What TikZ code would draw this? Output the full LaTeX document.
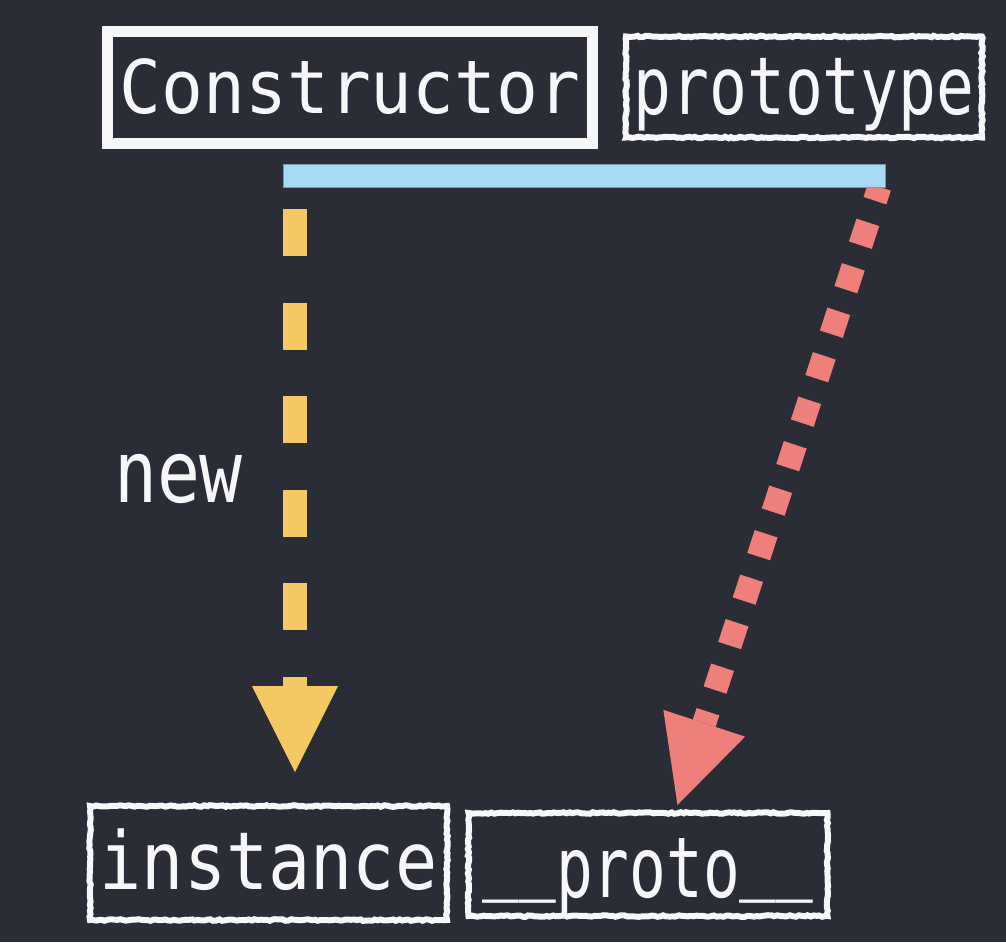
\documentclass[tikz,border=0pt]{standalone}
\usepackage{fontspec}
\usepackage{graphicx}
\usetikzlibrary{arrows.meta,decorations.pathmorphing,calc}
\newfontfamily\codefont{DejaVu Sans Mono}
\definecolor{bgc}{HTML}{2A2C36}
\definecolor{ink}{HTML}{F7F7F9}
\definecolor{yel}{HTML}{F4C862}
\definecolor{redc}{HTML}{EE7F7A}
\definecolor{barblue}{HTML}{A6D9F4}
\newcommand\mylbl[3]{\scalebox{#2}[1]{\codefont\fontsize{#1pt}{#1pt}\selectfont #3}}
\begin{document}
\begin{tikzpicture}[x=1pt,y=-1pt,
  solidbox/.style={draw=ink, line width=11pt, inner sep=0pt, text=ink},
  roughbox/.style={draw=ink, line width=6pt, inner sep=0pt, text=ink,
    decorate, decoration={random steps, segment length=3pt, amplitude=0.8pt}},
  ylink/.style={draw=yel, line width=24pt, dash pattern=on 47pt off 46.6pt, dash phase=60.6pt,
    -{Triangle[length=86pt,width=86pt,line width=0pt]}},
  rlink/.style={draw=redc, line width=24pt, dash pattern=on 24pt off 22.8pt, dash phase=9.6pt,
    -{Triangle[length=86pt,width=86pt,line width=0pt]}}
]
\pgfmathsetseed{7}
\fill[bgc] (0,0) rectangle (1006,942);
\useasboundingbox (0,0) rectangle (1006,942);

\node[solidbox, minimum width=485pt, minimum height=112pt, text height=51pt, text depth=0pt]
  (ctor) at (350,87.5) {\mylbl{74}{0.94}{Constructor}};
\node[roughbox, minimum width=356pt, minimum height=101pt, text height=54pt, text depth=0pt]
  (proto) at (804,87) {\mylbl{80}{0.787}{prototype}};
\node[roughbox, minimum width=357pt, minimum height=114pt, text height=52pt, text depth=0pt]
  (inst) at (268.5,863) {\mylbl{80}{0.876}{instance}};
\node[roughbox, minimum width=359pt, minimum height=103pt, text height=65pt, text depth=0pt]
  (dunder) at (648,864.5) {\mylbl{84}{0.727}{\raisebox{14pt}{\_\_}proto\raisebox{14pt}{\_\_}}};
\node[text=ink, inner sep=0pt, anchor=base] (newlbl) at (178.5,502) {\mylbl{86}{0.83}{new}};

\coordinate (yA) at (295,176);
\coordinate (yTip) at (295,772);
\coordinate (rA) at (879.4,187);
\coordinate (rTip) at (677.5,805);

\draw[ylink] (yA) -- (yTip);
\draw[rlink] (rA) -- (rTip);

\node[fill=barblue, draw=barblue!70!black, line width=0.6pt, inner sep=0pt,
  minimum width=602pt, minimum height=23pt] (bar) at (584,175.5) {};
\end{tikzpicture}
\end{document}
